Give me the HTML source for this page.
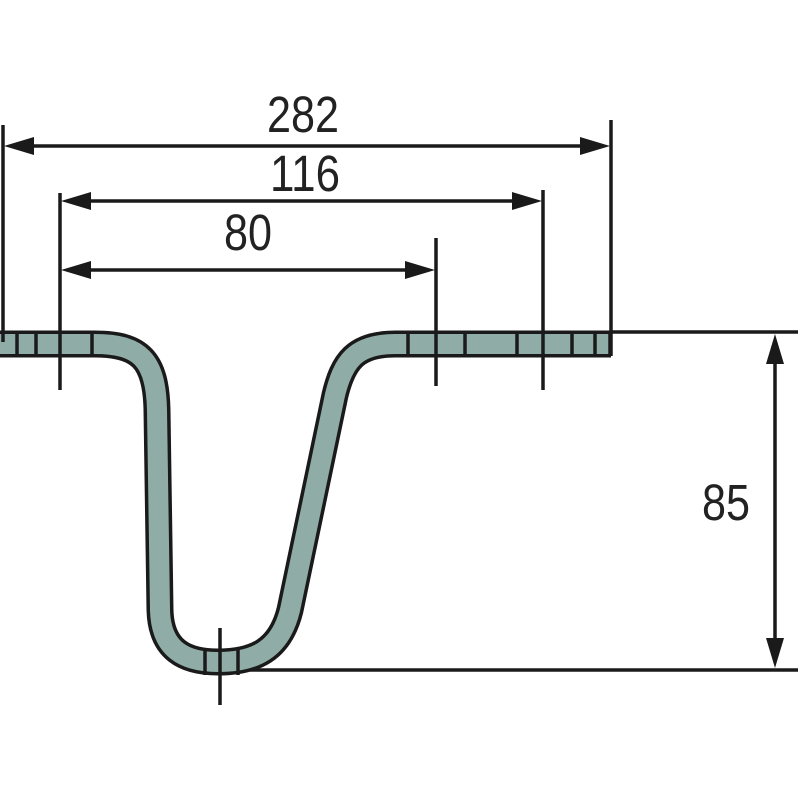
<!DOCTYPE html>
<html><head><style>html,body{margin:0;padding:0;background:#fff}svg{display:block}</style></head>
<body>
<svg width="800" height="800" viewBox="0 0 800 800" xmlns="http://www.w3.org/2000/svg">
<g font-family="Liberation Sans, sans-serif" font-size="51" fill="#222">
<text x="267" y="132" textLength="72" lengthAdjust="spacingAndGlyphs">282</text>
<text x="270" y="191" textLength="70" lengthAdjust="spacingAndGlyphs">116</text>
<text x="224" y="250" textLength="48" lengthAdjust="spacingAndGlyphs">80</text>
<text x="702" y="520" textLength="48" lengthAdjust="spacingAndGlyphs">85</text>
</g>
<!-- profile -->
<g fill="none" stroke-linejoin="round">
<path id="p" d="M0,344 L95,344 C140,344 156,360 157,410 L160,610 C161,650 185,662 218,662 C255,662 280,650 290,610 L335,395 C343,362 355,344 395,344 L611,344" stroke="#1a1a1a" stroke-width="27"/>
<path d="M0,344 L95,344 C140,344 156,360 157,410 L160,610 C161,650 185,662 218,662 C255,662 280,650 290,610 L335,395 C343,362 355,344 395,344 L611,344" stroke="#8fada6" stroke-width="20"/>
</g>
<g stroke="#1a1a1a" stroke-width="3.5" fill="none">
<!-- dividers -->
<path d="M17,333V356 M36,333V356 M92,333V356 M408,333V356 M465,333V356 M517,333V356 M572,333V356 M595,333V356 M610,333V356 M205,650V675 M238,650V675"/>
<!-- extension lines -->
<path d="M3,125V342 M60,193V390 M436,238V386 M543,190V390 M611,120V356 M220,628V705 M611,332H798 M250,670H798"/>
<!-- dimension lines -->
<path d="M20,146H595 M75,201H530 M75,270H420 M775,352V652"/>
</g>
<g fill="#1a1a1a">
<path d="M4,146L34,137V155Z M610,146L580,137V155Z"/>
<path d="M61,201L91,192V210Z M542,201L512,192V210Z"/>
<path d="M61,270L91,261V279Z M435,270L405,261V279Z"/>
<path d="M775,334L766,364H784Z M775,668L766,638H784Z"/>
</g>
</svg>
</body></html>
